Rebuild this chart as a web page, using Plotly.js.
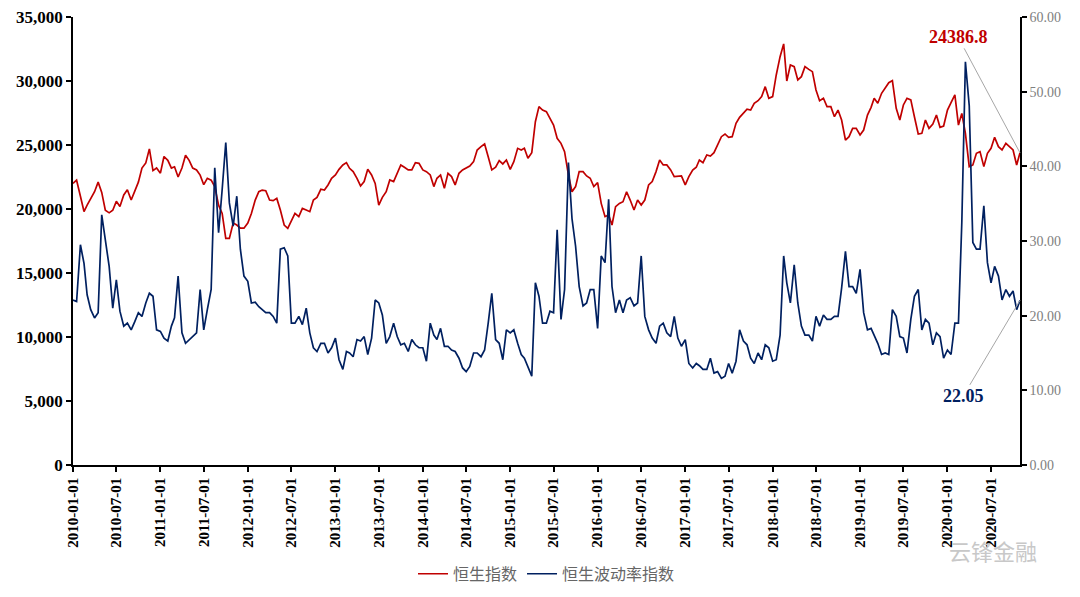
<!DOCTYPE html>
<html>
<head>
<meta charset="utf-8">
<script src="https://cdn.plot.ly/plotly-3.0.1.min.js"></script>
<style>
  body { margin: 0; background: #fff; }
  #chart { width: 1080px; height: 597px; }
</style>
</head>
<body>
<div id="chart"></div>
<script>
// 恒生指数, two readings a month (1st and 16th)
var hsi2010 = [22000, 22250, 21000, 19800, 20300, 20800, 21350, 22100, 21300, 19900, 19700, 19900, 20600, 20200, 21100, 21500, 20700, 21400, 22100, 23200, 23600, 24700, 23000, 23200];
var hsi2011 = [22800, 24100, 23800, 23200, 23300, 22500, 23200, 24200, 23800, 23200, 23050, 22650, 21900, 22400, 22250, 21750, 20300, 19650, 17700, 17700, 18900, 18750, 18500, 18500];
var hsi2012 = [18900, 19650, 20700, 21350, 21480, 21430, 20700, 20650, 20830, 19920, 18750, 18490, 19140, 19660, 19400, 20050, 19920, 19790, 20700, 20910, 21540, 21480, 21880, 22400];
var hsi2013 = [22660, 23100, 23440, 23620, 23180, 22920, 22400, 21800, 22140, 23100, 22660, 22000, 20310, 20910, 21350, 22270, 22140, 22790, 23440, 23260, 23050, 23050, 23620, 23570];
var hsi2014 = [23050, 22920, 22660, 21750, 22400, 22660, 21620, 22790, 22530, 21880, 22790, 23050, 23180, 23360, 23700, 24610, 24870, 25080, 24090, 23050, 23260, 23780, 23520, 23830];
var hsi2015 = [23100, 23700, 24740, 24610, 24740, 23960, 24400, 26820, 28000, 27730, 27600, 27080, 26560, 25520, 25130, 24480, 22660, 21350, 21750, 22920, 22920, 22580, 22400, 21750];
var hsi2016 = [22060, 20440, 19400, 19530, 18750, 20180, 20440, 20570, 21350, 20700, 19920, 20700, 20310, 20700, 21880, 22140, 22920, 23830, 23440, 23440, 23050, 22530, 22530, 22580];
var hsi2017 = [21880, 22530, 23050, 23260, 23830, 23620, 24220, 24140, 24400, 25000, 25650, 25860, 25600, 25650, 26690, 27160, 27470, 27790, 27730, 28260, 28460, 28780, 29560, 28650];
var hsi2018 = [28780, 30470, 31900, 32900, 30000, 31250, 31120, 30080, 30340, 31120, 30910, 30730, 29300, 28460, 28650, 28000, 28000, 27210, 27730, 26950, 25390, 25650, 26300, 26300];
var hsi2019 = [25780, 26170, 27340, 27940, 28650, 28260, 29040, 29430, 29870, 30030, 27870, 26950, 28130, 28650, 28520, 27210, 25860, 25910, 26950, 26300, 26640, 27340, 26380, 26480];
var hsi2020 = [27730, 28310, 28910, 26560, 27470, 25910, 23310, 23440, 24350, 24480, 23310, 24350, 24740, 25600, 24870, 24610, 25130, 24870, 24610, 23440];

// 恒生波动率指数
var vhsi2010 = [22.1, 21.9, 29.5, 27.0, 22.8, 20.8, 19.7, 20.4, 33.5, 30.0, 26.6, 21.0, 24.8, 20.6, 18.6, 19.0, 18.1, 19.2, 20.4, 19.9, 21.7, 23.0, 22.6, 18.1];
var vhsi2011 = [17.9, 17.0, 16.6, 18.6, 19.7, 25.3, 17.7, 16.3, 16.8, 17.2, 17.7, 23.5, 18.1, 20.8, 23.5, 39.8, 31.1, 36.9, 43.2, 35.1, 32.0, 36.0, 28.9, 25.3];
var vhsi2012 = [24.6, 21.7, 21.8, 21.2, 20.8, 20.4, 20.4, 19.9, 19.0, 28.9, 29.1, 28.0, 19.0, 19.0, 19.9, 18.8, 21.0, 17.7, 15.7, 15.2, 16.3, 16.3, 15.0, 15.7];
var vhsi2013 = [17.0, 14.1, 12.8, 15.2, 15.0, 14.5, 16.8, 16.6, 17.2, 14.8, 17.0, 22.1, 21.7, 20.1, 16.3, 17.2, 19.0, 17.2, 16.1, 16.3, 15.2, 16.8, 16.1, 15.7];
var vhsi2014 = [15.7, 13.9, 19.0, 17.4, 16.8, 18.3, 15.9, 15.9, 15.4, 15.2, 14.3, 13.0, 12.5, 13.2, 15.0, 15.0, 14.5, 15.4, 19.0, 23.0, 16.8, 16.3, 14.1, 18.1];
var vhsi2015 = [17.7, 18.1, 16.3, 14.8, 14.3, 13.2, 11.9, 24.4, 22.6, 19.0, 19.0, 20.6, 20.4, 31.5, 19.5, 23.5, 40.5, 33.0, 29.3, 23.9, 21.3, 21.7, 23.5, 23.5];
var vhsi2016 = [18.3, 28.0, 27.1, 35.6, 23.9, 20.4, 22.1, 20.4, 22.1, 22.4, 21.3, 21.7, 28.0, 19.9, 18.1, 17.0, 16.3, 18.6, 19.0, 17.7, 17.2, 19.9, 17.0, 15.9];
var vhsi2017 = [16.8, 13.6, 13.0, 13.6, 13.3, 12.8, 12.8, 14.3, 12.3, 12.5, 11.6, 11.9, 13.6, 12.3, 13.9, 18.1, 16.6, 16.1, 14.3, 13.6, 15.0, 14.1, 16.1, 15.7];
var vhsi2018 = [13.9, 14.1, 17.4, 28.0, 24.4, 21.7, 26.8, 21.7, 18.6, 17.4, 17.4, 16.6, 19.9, 18.6, 20.1, 19.5, 19.5, 19.9, 19.9, 23.7, 28.6, 23.9, 23.9, 23.0];
var vhsi2019 = [26.2, 20.4, 18.1, 18.3, 17.4, 16.3, 14.8, 15.0, 14.8, 20.8, 19.9, 17.2, 17.0, 15.0, 19.5, 22.6, 23.5, 18.1, 19.5, 19.0, 16.1, 17.7, 17.2, 14.3];
var vhsi2020 = [15.4, 14.8, 19.0, 19.0, 32.5, 54.0, 48.1, 29.8, 28.9, 28.9, 34.7, 27.1, 24.4, 26.6, 25.3, 22.1, 23.5, 22.6, 23.3, 20.8];

var lastDate = '2020-10-30';
var hsiLast = 24386.8;
var vhsiLast = 22.05;

var hsi = [].concat(hsi2010, hsi2011, hsi2012, hsi2013, hsi2014, hsi2015, hsi2016, hsi2017, hsi2018, hsi2019, hsi2020);
var vhsi = [].concat(vhsi2010, vhsi2011, vhsi2012, vhsi2013, vhsi2014, vhsi2015, vhsi2016, vhsi2017, vhsi2018, vhsi2019, vhsi2020);

// dates: 1st and 16th of every month from 2010-01
var dates = [];
for (var y = 2010; dates.length < hsi.length; y++) {
  for (var m = 1; m <= 12 && dates.length < hsi.length; m++) {
    var mm = (m < 10 ? '0' : '') + m;
    dates.push(y + '-' + mm + '-01');
    if (dates.length < hsi.length) dates.push(y + '-' + mm + '-16');
  }
}
dates.push(lastDate);
hsi.push(hsiLast);
vhsi.push(vhsiLast);

// half-year ticks
var ticks = [];
for (var yy = 2010; yy <= 2020; yy++) {
  ticks.push(yy + '-01-01');
  ticks.push(yy + '-07-01');
}

var serif = 'Liberation Serif, Times New Roman, serif';

var data = [
  {
    x: dates, y: hsi, name: '恒生指数',
    type: 'scatter', mode: 'lines',
    line: {color: '#C00000', width: 1.7}
  },
  {
    x: dates, y: vhsi, name: '恒生波动率指数',
    type: 'scatter', mode: 'lines', yaxis: 'y2',
    line: {color: '#002060', width: 1.7}
  }
];

var layout = {
  width: 1080,
  height: 597,
  margin: {l: 73, r: 60, t: 17, b: 132, autoexpand: false},
  paper_bgcolor: '#ffffff',
  plot_bgcolor: '#ffffff',
  font: {family: serif, color: '#000'},
  showlegend: true,
  legend: {
    orientation: 'h',
    x: 0.5, xanchor: 'center',
    y: -0.243, yanchor: 'middle',
    font: {family: 'Noto Sans CJK SC', size: 16, color: '#666666'},
    itemwidth: 30
  },
  xaxis: {
    type: 'date',
    range: [dates[0], lastDate],
    tickvals: ticks,
    tickformat: '%Y-%m-%d',
    tickangle: -90,
    ticks: 'outside', ticklen: 5, tickcolor: '#000', tickwidth: 1.5,
    showline: true, linecolor: '#000', linewidth: 1.5,
    showgrid: false, zeroline: false,
    tickfont: {family: serif, size: 15, color: '#000', weight: 'bold'}
  },
  yaxis: {
    range: [0, 35000],
    dtick: 5000,
    tickformat: ',',
    ticks: 'outside', ticklen: 5, tickcolor: '#000', tickwidth: 1.5,
    showline: true, linecolor: '#000', linewidth: 1.5,
    showgrid: false, zeroline: false,
    tickfont: {family: serif, size: 17, color: '#000', weight: 'bold'}
  },
  yaxis2: {
    overlaying: 'y',
    side: 'right',
    range: [0, 60],
    dtick: 10,
    tickformat: '.2f',
    ticks: 'outside', ticklen: 5, tickcolor: '#000', tickwidth: 1.5,
    showline: true, linecolor: '#000', linewidth: 1.5,
    showgrid: false, zeroline: false,
    tickfont: {family: serif, size: 14, color: '#808080'}
  },
  annotations: [
    {
      x: lastDate, y: hsiLast, xref: 'x', yref: 'y',
      text: '24386.8',
      showarrow: true, arrowhead: 0, arrowwidth: 1, arrowcolor: '#a6a6a6',
      ax: -62, ay: -116, standoff: 0,
      font: {family: serif, size: 18, color: '#C00000', weight: 'bold'}
    },
    {
      x: lastDate, y: vhsiLast, xref: 'x', yref: 'y2',
      text: '22.05',
      showarrow: true, arrowhead: 0, arrowwidth: 1, arrowcolor: '#a6a6a6',
      ax: -57, ay: 96, standoff: 0,
      font: {family: serif, size: 18, color: '#002060', weight: 'bold'}
    },
    {
      xref: 'paper', yref: 'paper', x: 1.02, y: -0.19,
      xanchor: 'right', yanchor: 'middle', showarrow: false,
      text: '云锋金融',
      font: {family: 'Noto Sans CJK SC', size: 22, color: '#c8c8c8'}
    }
  ]
};

Plotly.newPlot('chart', data, layout, {displayModeBar: false, responsive: false});
</script>
</body>
</html>
